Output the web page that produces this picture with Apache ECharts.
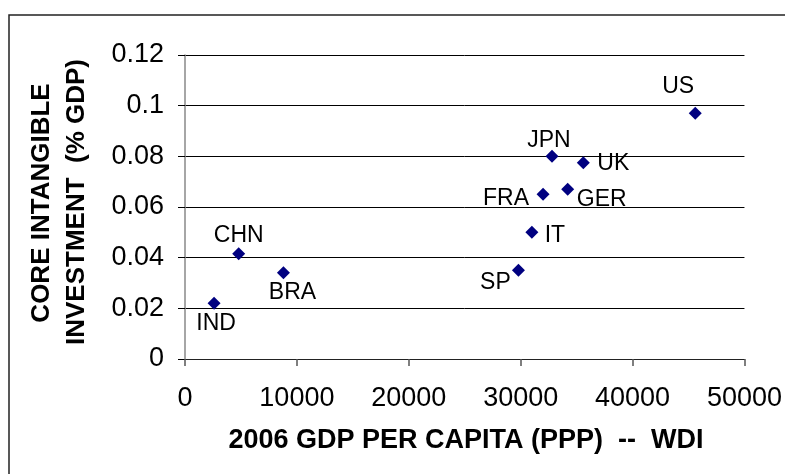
<!DOCTYPE html>
<html>
<head>
<meta charset="utf-8">
<script src="https://cdn.jsdelivr.net/npm/echarts@6/dist/echarts.min.js"></script>
<style>
  html, body { margin: 0; padding: 0; background: #fff; }
  #chart { width: 785px; height: 474px; }
</style>
</head>
<body>
<div id="chart"></div>
<script>
// values
const countries = ['US', 'JPN', 'UK', 'FRA', 'GER', 'IT', 'SP', 'CHN', 'BRA', 'IND']
const gdpPerCapita = [45600, 32800, 35600, 32000, 34200, 31000, 29800, 4800, 8800, 2600]
const intangibleShare = [0.097, 0.080, 0.0775, 0.065, 0.067, 0.050, 0.035, 0.0415, 0.034, 0.022]
const yTicks = [0, 0.02, 0.04, 0.06, 0.08, 0.1, 0.12]

// where each country label sits relative to its marker (px)
const labelOffset = {
  US: [-17, -27], JPN: [-3, -16], UK: [30, 1], FRA: [-37, 4], GER: [34, 10],
  IT: [23, 3], SP: [-23, 12], CHN: [0, -18], BRA: [9, 20], IND: [2, 20]
}

const font = 'Liberation Sans, Arial, sans-serif'
const chart = echarts.init(document.getElementById('chart'))

chart.setOption({
  animation: false,
  grid: { left: 185, right: 40, top: 55, bottom: 115 },
  xAxis: {
    type: 'value',
    min: 0,
    max: 50000,
    interval: 10000,
    axisLine: { show: true, onZero: false, lineStyle: { color: '#222', width: 1 } },
    axisTick: { show: true, length: 7, lineStyle: { color: '#555', width: 1.5 } },
    axisLabel: {
      margin: 26, color: '#000', fontSize: 27, fontFamily: font,
      formatter: v => String(v)
    },
    splitLine: { show: false }
  },
  yAxis: {
    type: 'value',
    min: 0,
    max: yTicks[yTicks.length - 1],
    interval: 0.02,
    axisLine: { show: true, lineStyle: { color: '#888', width: 1.5 } },
    axisTick: { show: true, length: 7, lineStyle: { color: '#000', width: 1 } },
    axisLabel: {
      margin: 21, color: '#000', fontSize: 27, fontFamily: font,
      formatter: v => String(+v.toFixed(2))
    },
    splitLine: { show: true, lineStyle: { color: '#000', width: 1 } }
  },
  graphic: [
    {
      type: 'rect', silent: true,
      shape: { x: 9, y: 15, width: 900, height: 600 },
      style: { fill: 'none', stroke: '#222', lineWidth: 1.5 }
    },
    {
      type: 'text', x: 42, y: 203, rotation: Math.PI / 2,
      style: {
        text: 'CORE INTANGIBLE', fill: '#000', font: 'bold 26px ' + font,
        align: 'center', verticalAlign: 'middle'
      }
    },
    {
      type: 'text', x: 77, y: 202, rotation: Math.PI / 2,
      style: {
        text: 'INVESTMENT  (% GDP)', fill: '#000', font: 'bold 26px ' + font,
        align: 'center', verticalAlign: 'middle'
      }
    },
    {
      type: 'text', x: 466, y: 441,
      style: {
        text: '2006 GDP PER CAPITA (PPP)  --  WDI', fill: '#000', font: 'bold 27px ' + font,
        align: 'center', verticalAlign: 'middle'
      }
    }
  ],
  series: [{
    type: 'scatter',
    symbol: 'diamond',
    symbolSize: 13,
    itemStyle: { color: '#000080', opacity: 1 },
    data: countries.map((name, i) => ({
      name,
      value: [gdpPerCapita[i], intangibleShare[i]],
      label: {
        show: true,
        position: 'inside',
        offset: labelOffset[name],
        formatter: '{b}',
        color: '#000',
        fontSize: 23,
        fontFamily: font
      }
    }))
  }]
})
</script>
</body>
</html>
